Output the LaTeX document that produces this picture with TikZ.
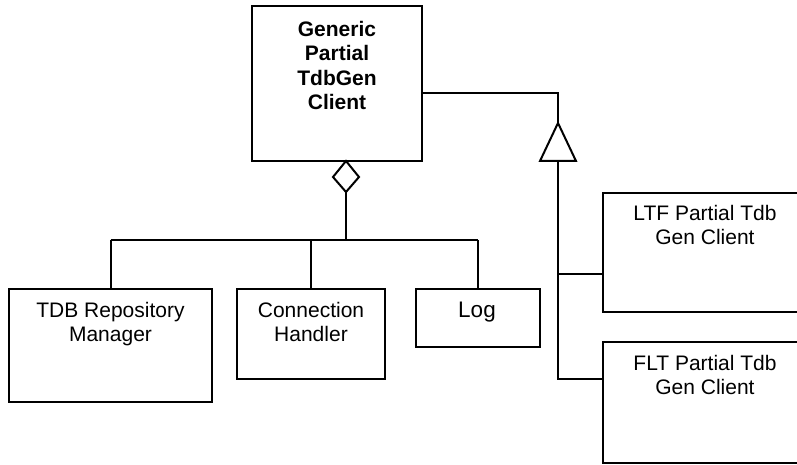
\documentclass[tikz,border=0pt]{standalone}
\usepackage{fontspec}
\setmainfont{Liberation Sans}
\usetikzlibrary{calc}
\begin{document}
\begin{tikzpicture}[x=1pt,y=-1pt,
  box/.style={draw, line width=2pt, inner sep=0pt, outer sep=0pt, anchor=north west},
  wire/.style={line width=2pt},
  txt/.style={anchor=north, inner sep=0pt, align=center, font=\fontsize{21}{24}\selectfont},
  btxt/.style={txt, font=\fontsize{21}{24.5}\selectfont\bfseries}]
\useasboundingbox (0,0) rectangle (797,465);
\clip (0,0) rectangle (797,465);
% boxes
\node[box, minimum width=170pt, minimum height=155pt] (gen) at (252,6) {};
\node[box, minimum width=203pt, minimum height=113pt] (tdb) at (9,289) {};
\node[box, minimum width=148pt, minimum height=90pt] (con) at (237,289) {};
\node[box, minimum width=124pt, minimum height=58pt] (log) at (416,289) {};
\node[box, minimum width=204pt, minimum height=119pt] (ltf) at (603,193) {};
\node[box, minimum width=204pt, minimum height=121pt] (flt) at (603,342) {};
% texts
\node[btxt] (gentxt) at (337,21) {Generic\\Partial\\TdbGen\\Client};
\node[txt] (tdbtxt) at (110.5,302) {TDB Repository\\Manager};
\node[txt] (contxt) at (311,302) {Connection\\Handler};
\node[txt, font=\fontsize{22.5}{26}\selectfont] (logtxt) at (477,302) {Log};
\node[txt] (ltftxt) at (705,205) {LTF Partial Tdb\\Gen Client};
\node[txt] (flttxt) at (705,355) {FLT Partial Tdb\\Gen Client};
% helper coordinates
\coordinate (y93) at (0,93);
\coordinate (y240) at (0,240);
\coordinate (y274) at (0,274);
\coordinate (y379) at (0,379);
% generalisation triangle
\coordinate (apex) at (558,123);
\coordinate (bl) at (540,161);
\coordinate (br) at (576,161);
\coordinate (tbase) at (558,161);
\draw[wire] (gen.east |- y93) -| (apex);
\draw[wire, fill=white, line join=miter] (apex) -- (bl) -- (br) -- cycle;
\draw[wire] (tbase) -- (tbase |- y379) -- (flt.west |- y379);
\draw[wire] (tbase |- y274) -- (ltf.west |- y274);
% aggregation diamond
\coordinate (dtop) at (346,161);
\coordinate (dleft) at (333,177);
\coordinate (dbot) at (346,192);
\coordinate (dright) at (359,177);
\draw[wire, fill=white] (dtop) -- (dleft) -- (dbot) -- (dright) -- cycle;
\draw[wire] (dbot) -- (dbot |- y240);
\draw[wire] (tdb.north |- y240) -- (log.north |- y240);
\draw[wire] (tdb.north |- y240) -- (tdb.north);
\draw[wire] (con.north |- y240) -- (con.north);
\draw[wire] (log.north |- y240) -- (log.north);
\end{tikzpicture}
\end{document}
